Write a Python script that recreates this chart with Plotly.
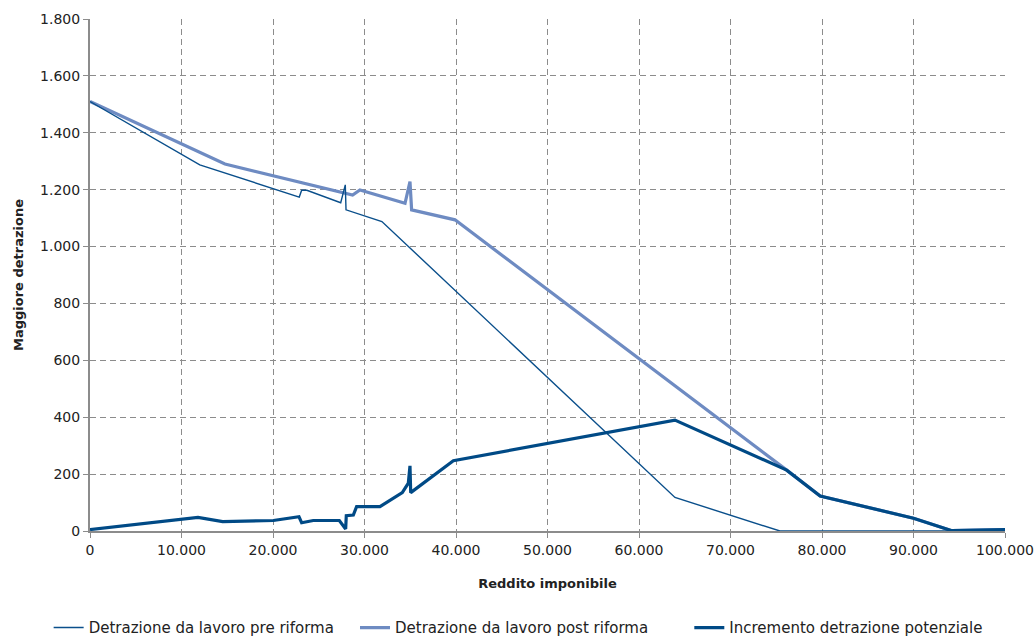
import plotly.graph_objects as go

# Reddito imponibile (euro) and detrazioni (euro)
pre_x = [0, 12000, 22870, 23130, 23700, 27400, 27900, 27980, 31900, 63930, 75400, 100000]
pre_y = [1510, 1287, 1174, 1198, 1198, 1154, 1217, 1129, 1088, 118, 0, 0]

post_x = [0, 14750, 28700, 29500, 34430, 34970, 35150, 39890, 76140, 79800, 90000, 94200, 100000]
post_y = [1510, 1290, 1181, 1199, 1152, 1228, 1129, 1094, 214, 123, 45, 1, 5]

inc_x = [0, 11800, 14500, 20040, 22840, 23130, 24400, 27250, 27940, 28010, 28780, 29140,
         31690, 34130, 34790, 34970, 35050, 39710, 63930, 76140, 79800, 90000, 94200, 100000]
inc_y = [5, 48, 33, 37, 50, 29, 37, 37, 7, 54, 56, 86,
         86, 135, 168, 229, 135, 247, 390, 214, 123, 45, 1, 5]

names = ["Detrazione da lavoro pre riforma",
         "Detrazione da lavoro post riforma",
         "Incremento detrazione potenziale"]

GRID = "#8c8c8c"
FONT = "DejaVu Sans"

fig = go.Figure()
fig.add_trace(go.Scatter(x=post_x, y=post_y, mode="lines", name=names[1],
                         line=dict(color="#6e8bc2", width=3.2), legend="legend2"))
fig.add_trace(go.Scatter(x=pre_x, y=pre_y, mode="lines", name=names[0],
                         line=dict(color="#0a4f8b", width=1.4), legend="legend"))
fig.add_trace(go.Scatter(x=inc_x, y=inc_y, mode="lines", name=names[2],
                         line=dict(color="#004a86", width=3.2), legend="legend3"))

# one legend box per series, placed in container coordinates along the bottom
leg = dict(orientation="h", xref="container", yref="container",
           yanchor="middle", y=0.016, xanchor="left",
           font=dict(family=FONT, size=15, color="#222"), bgcolor="rgba(0,0,0,0)",
           itemwidth=30, tracegroupgap=0)

fig.update_layout(
    width=1035, height=638,
    margin=dict(l=90, r=30, t=19, b=107, autoexpand=False),
    paper_bgcolor="white", plot_bgcolor="white",
    separators=",.",
    showlegend=True,
    font=dict(family=FONT, size=14, color="#222"),
    legend=dict(leg, x=0.047),
    legend2=dict(leg, x=0.343),
    legend3=dict(leg, x=0.666),
    xaxis=dict(range=[0, 100000], dtick=10000, tickformat=",d",
               showgrid=True, gridcolor=GRID, griddash="6px,4px", gridwidth=1,
               showline=True, linecolor=GRID, linewidth=2, zeroline=False,
               ticks="outside", ticklen=5, tickcolor=GRID,
               tickfont=dict(family=FONT, size=14, color="#222"),
               title=dict(text="<b>Reddito imponibile</b>", standoff=22,
                          font=dict(family=FONT, size=13, color="#222"))),
    yaxis=dict(range=[0, 1800], dtick=200, tickformat=",d",
               showgrid=True, gridcolor=GRID, griddash="6px,4px", gridwidth=1,
               showline=True, linecolor=GRID, linewidth=2, zeroline=False,
               ticks="outside", ticklen=5, tickcolor=GRID,
               tickfont=dict(family=FONT, size=14, color="#222"),
               title=dict(text="<b>Maggiore detrazione</b>", standoff=14,
                          font=dict(family=FONT, size=13, color="#222"))),
)

fig.write_html("out.html")
